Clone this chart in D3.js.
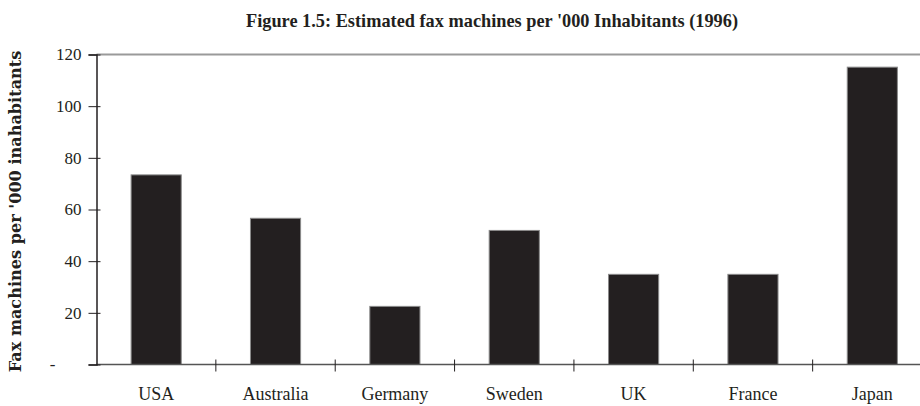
<!DOCTYPE html>
<html>
<head>
<meta charset="utf-8">
<script src="https://cdn.jsdelivr.net/npm/d3@7"></script>
<style>
  html, body { margin: 0; padding: 0; background: #fff; }
  svg { display: block; }
  text { font-family: "Liberation Serif", "DejaVu Serif", serif; fill: #231f20; }
</style>
</head>
<body>
<script>
// Fax machines per thousand inhabitants, 1996
const countries = ["USA", "Australia", "Germany", "Sweden", "UK", "France", "Japan"];
const faxPerThousand = [73.4, 56.6, 22.5, 51.9, 34.9, 34.9, 115.1];
const yTicks = [0, 20, 40, 60, 80, 100, 120];
const yTickLabels = ["-", "20", "40", "60", "80", "100", "120"];

const width = 920, height = 406;
const margin = { top: 54.5, right: -12, bottom: 41.5, left: 96.5 };

const svg = d3.select("body").append("svg")
  .attr("width", width)
  .attr("height", height);

const x = d3.scaleBand()
  .domain(countries)
  .range([margin.left, width - margin.right])
  .paddingInner(0.58)
  .paddingOuter(0.29);

const y = d3.scaleLinear()
  .domain([0, 120])
  .range([height - margin.bottom, margin.top]);

// Shrink or grow a text element's font so it spans the given length
function fitLength(sel, target, base) {
  const node = sel.node();
  sel.style("font-size", base + "px");
  const len = node.getComputedTextLength();
  sel.style("font-size", (base * target / len).toFixed(2) + "px");
}

// Title, set tight in a bold serif
svg.append("text")
  .attr("x", 492)
  .attr("y", 27)
  .attr("text-anchor", "middle")
  .attr("textLength", 492)
  .attr("lengthAdjust", "spacingAndGlyphs")
  .style("font-size", "19px")
  .style("font-weight", "bold")
  .text("Figure 1.5: Estimated fax machines per '000 Inhabitants (1996)");

// Top border of the plot area
svg.append("line")
  .attr("x1", margin.left).attr("x2", width)
  .attr("y1", y(120)).attr("y2", y(120))
  .attr("stroke", "#9a9a9a")
  .attr("stroke-width", 2);

// Bars
svg.append("g").selectAll("rect")
  .data(countries.map((c, i) => ({ c, v: faxPerThousand[i] })))
  .join("rect")
  .attr("x", d => x(d.c))
  .attr("width", x.bandwidth())
  .attr("y", d => y(d.v))
  .attr("height", d => y(0) - y(d.v))
  .attr("fill", "#231f20")
  .attr("stroke", "#8a8a8a")
  .attr("stroke-width", 1);

// X axis: baseline with tick marks between categories
const xAxisG = svg.append("g");
xAxisG.append("line")
  .attr("x1", margin.left).attr("x2", width)
  .attr("y1", y(0)).attr("y2", y(0))
  .attr("stroke", "#555")
  .attr("stroke-width", 1.5);

const step = x.step();
const boundaries = countries.slice(1).map(c => x(c) - x.paddingInner() * step / 2);
xAxisG.selectAll("line.tick")
  .data(boundaries)
  .join("line")
  .attr("class", "tick")
  .attr("x1", d => d).attr("x2", d => d)
  .attr("y1", y(0) - 5).attr("y2", y(0) + 7)
  .attr("stroke", "#231f20")
  .attr("stroke-width", 1);

xAxisG.selectAll("text")
  .data(countries)
  .join("text")
  .attr("x", d => x(d) + x.bandwidth() / 2)
  .attr("y", 400)
  .attr("text-anchor", "middle")
  .style("font-size", "18px")
  .text(d => d);

// Y axis
const yAxis = d3.axisLeft(y)
  .tickValues(yTicks)
  .tickSize(8)
  .tickPadding(7)
  .tickFormat((d, i) => yTickLabels[i]);

const yAxisG = svg.append("g")
  .attr("transform", `translate(${margin.left},0)`)
  .call(yAxis);
yAxisG.select(".domain").attr("stroke", "#231f20").attr("stroke-width", 1.5);
yAxisG.selectAll(".tick line").attr("stroke", "#231f20").attr("x2", -8).attr("x1", 4);
yAxisG.selectAll(".tick text")
  .style("font-size", "17px")
  .style("font-family", "'Liberation Serif', serif")
  .attr("fill", "#231f20");
// zero is shown as a dash, set further left
yAxisG.selectAll(".tick text").filter(d => d === 0)
  .attr("x", -44).attr("text-anchor", "middle");

// Y axis title, in a wider serif
const yTitle = svg.append("text")
  .attr("transform", `translate(21,${(y(0) + y(120)) / 2 + 2}) rotate(-90)`)
  .attr("text-anchor", "middle")
  .style("font-family", "'DejaVu Serif', serif")
  .style("font-weight", "bold")
  .text("Fax machines per '000 inahabitants");
fitLength(yTitle, 322, 14);
</script>
</body>
</html>
